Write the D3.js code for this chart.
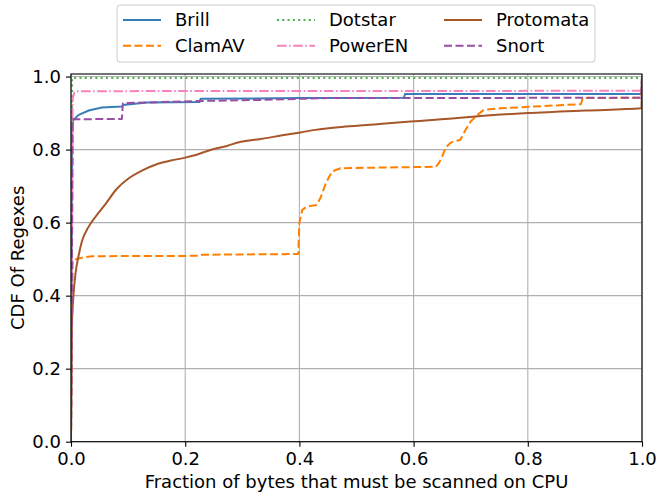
<!DOCTYPE html>
<html><head><meta charset="utf-8">
<script src="https://cdn.jsdelivr.net/npm/d3@7"></script>
<style>body{margin:0;background:#fff}svg{display:block}text{font-family:"DejaVu Sans",sans-serif;}</style>
</head><body><svg id="c" width="657" height="494"></svg>
<script>
const seriesNames = ["Brill","ClamAV","Dotstar","PowerEN","Protomata","Snort"];
const xTicks = [0.0,0.2,0.4,0.6,0.8,1.0];
const yTicks = [0.0,0.2,0.4,0.6,0.8,1.0];

const brill = [[0,0],[0.002,0.86],[0.004,0.881],[0.0135,0.895],[0.031,0.907],[0.054,0.915],[0.089,0.918],[0.091,0.922],[0.133,0.929],[0.225,0.930],[0.227,0.939],[0.40,0.941],[0.583,0.942],[0.585,0.952],[0.999,0.952],[1.0,1.0]];
const clamav = [[0,0],[0.003,0.497],[0.019,0.504],[0.037,0.508],[0.225,0.509],[0.23,0.512],[0.398,0.514],[0.400,0.60],[0.405,0.635],[0.413,0.644],[0.43,0.648],[0.437,0.668],[0.447,0.71],[0.457,0.740],[0.472,0.749],[0.639,0.753],[0.645,0.765],[0.65,0.781],[0.656,0.805],[0.665,0.819],[0.682,0.827],[0.691,0.854],[0.70,0.877],[0.712,0.895],[0.723,0.909],[0.753,0.913],[0.811,0.918],[0.89,0.924],[0.893,0.924],[0.896,0.941],[0.999,0.942],[1.0,1.0]];
const dotstar = [[0,0],[0.002,0.996],[1.0,0.996],[1.0,1.0]];
const poweren = [[0,0],[0.003,0.94],[0.006,0.957],[0.012,0.960],[0.999,0.961],[1.0,1.0]];
const protomata = [[0,0],[0.001,0.30],[0.002,0.342],[0.005,0.415],[0.008,0.462],[0.013,0.507],[0.019,0.548],[0.031,0.589],[0.043,0.616],[0.06,0.650],[0.08,0.692],[0.10,0.720],[0.125,0.743],[0.15,0.760],[0.175,0.770],[0.20,0.778],[0.22,0.786],[0.244,0.799],[0.273,0.81],[0.296,0.821],[0.332,0.829],[0.37,0.839],[0.402,0.847],[0.428,0.854],[0.481,0.863],[0.54,0.870],[0.595,0.877],[0.682,0.887],[0.718,0.892],[0.80,0.90],[0.90,0.907],[0.999,0.913],[1.0,1.0]];
const snort = [[0,0],[0.003,0.883],[0.089,0.884],[0.091,0.927],[0.22,0.933],[0.33,0.936],[0.45,0.941],[0.999,0.942],[1.0,1.0]];

const seriesData = [brill, clamav, dotstar, poweren, protomata, snort];
const colors = ["#377eb8","#ff7f00","#4daf4a","#f781bf","#a65628","#984ea3"];
const dashes = [null,"8,3.5","2,3.3","9.6,2.5,1.6,2.5",null,"8,3.5"];

const svg = d3.select("#c");
const L=71, R=642, T=74, B=441.7;
const FS = 18;
const x = d3.scaleLinear().domain([0,1]).range([L,R]);
const y = d3.scaleLinear().domain([0,1.007]).range([B,T]);

const defs = svg.append("defs");
defs.append("clipPath").attr("id","clip").append("rect").attr("x",L).attr("y",T).attr("width",R-L).attr("height",B-T);

// grid
const g = svg.append("g");
g.selectAll(".gx").data(xTicks).join("line").attr("x1",d=>x(d)).attr("x2",d=>x(d)).attr("y1",T).attr("y2",B).attr("stroke","#b0b0b0").attr("stroke-width",1.1);
g.selectAll(".gy").data(yTicks).join("line").attr("y1",d=>y(d)).attr("y2",d=>y(d)).attr("x1",L).attr("x2",R).attr("stroke","#b0b0b0").attr("stroke-width",1.1);

// lines
const line = d3.line().x(d=>x(d[0])).y(d=>y(d[1]));
const smooth = d3.line().x(d=>x(d[0])).y(d=>y(d[1])).curve(d3.curveMonotoneX);
const lg = svg.append("g").attr("clip-path","url(#clip)");
seriesData.forEach((s,i)=>{
  const gen = (i===4) ? smooth : line;
  lg.append("path").attr("d",gen(s)).attr("fill","none").attr("stroke",colors[i]).attr("stroke-width",2)
    .attr("stroke-dasharray",dashes[i]).attr("stroke-linejoin","round");
});

// axes
const xa = svg.append("g").attr("transform",`translate(0,${B})`).call(d3.axisBottom(x).tickValues(xTicks).tickFormat(d3.format(".1f")).tickSize(5).tickPadding(5));
const ya = svg.append("g").attr("transform",`translate(${L},0)`).call(d3.axisLeft(y).tickValues(yTicks).tickFormat(d3.format(".1f")).tickSize(5).tickPadding(5));
[xa,ya].forEach(a=>{a.select(".domain").remove();a.selectAll("text").attr("font-size",FS).attr("fill","#000").attr("font-family","DejaVu Sans");a.selectAll("line").attr("stroke","#000").attr("stroke-width",1.1);});
xa.selectAll("text").attr("dy","0.75em");

svg.append("rect").attr("x",L).attr("y",T).attr("width",R-L).attr("height",B-T).attr("fill","none").attr("stroke","#000").attr("stroke-width",1.1);

svg.append("text").attr("x",(L+R)/2).attr("y",488).attr("text-anchor","middle").attr("font-size",FS).text("Fraction of bytes that must be scanned on CPU");
svg.append("text").attr("transform",`translate(24,${(T+B)/2}) rotate(-90)`).attr("text-anchor","middle").attr("font-size",FS).text("CDF Of Regexes");

// legend
const leg = svg.append("g");
leg.append("rect").attr("x",117).attr("y",5).attr("width",478).attr("height",57).attr("rx",3).attr("fill","#fff").attr("fill-opacity",0.8).attr("stroke","#cccccc").attr("stroke-width",1);
const colX = [123,277,444];
const rowY = [20,45.7];
seriesNames.forEach((n,i)=>{
  const c = Math.floor(i/2), r = i%2;
  leg.append("line").attr("x1",colX[c]).attr("x2",colX[c]+38).attr("y1",rowY[r]).attr("y2",rowY[r]).attr("stroke",colors[i]).attr("stroke-width",2).attr("stroke-dasharray",dashes[i]);
  leg.append("text").attr("x",colX[c]+52).attr("y",rowY[r]).attr("dy","0.35em").attr("font-size",FS).text(n);
});
</script></body></html>
